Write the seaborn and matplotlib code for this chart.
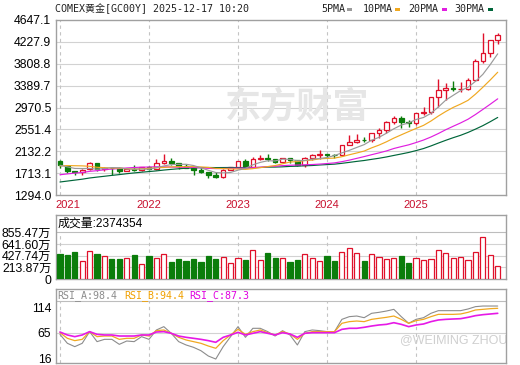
import numpy as np
import pandas as pd
import matplotlib
matplotlib.use("Agg")
import matplotlib.pyplot as plt
import seaborn as sns
from matplotlib.patches import Rectangle

# monthly bars, 2021-01 .. 2025-12
years = ["2021", "2022", "2023", "2024", "2025"]
year_pos = [0, 12, 24, 36, 48]

opens = [1940, 1850, 1745, 1730, 1785, 1900, 1790, 1818, 1813, 1757, 1783, 1775,
         1828, 1797, 1900, 1950, 1911, 1848, 1807, 1781, 1726, 1672, 1640, 1768,
         1826, 1945, 1836, 1986, 2000, 1982, 1929, 2009, 1966, 1870, 2002, 2057,
         2071, 2067, 2054, 2254, 2302, 2346, 2339, 2473, 2536, 2690, 2775, 2697,
         2680, 2863, 2880, 3175, 3304, 3340, 3320, 3330, 3495, 3870, 4013, 4261]
highs = [1960, 1875, 1760, 1800, 1920, 1915, 1835, 1835, 1835, 1815, 1878, 1830,
         1855, 1975, 2078, 2003, 1912, 1880, 1814, 1824, 1735, 1732, 1786, 1836,
         1949, 1975, 2015, 2063, 2085, 1985, 2011, 2012, 1970, 2019, 2085, 2152,
         2088, 2074, 2256, 2448, 2454, 2400, 2485, 2570, 2708, 2801, 2801, 2726,
         2873, 2974, 3177, 3509, 3437, 3476, 3451, 3534, 3892, 4398, 4270, 4400]
lows = [1805, 1720, 1680, 1680, 1765, 1750, 1750, 1680, 1720, 1745, 1760, 1755,
        1780, 1780, 1890, 1872, 1786, 1805, 1681, 1709, 1622, 1617, 1618, 1765,
        1824, 1810, 1810, 1969, 1937, 1900, 1902, 1913, 1846, 1823, 1966, 1987,
        2001, 2011, 2039, 2253, 2296, 2304, 2319, 2393, 2490, 2652, 2570, 2598,
        2633, 2832, 2850, 2978, 3123, 3283, 3268, 3314, 3480, 3830, 3930, 4190]
closes = [1865, 1745, 1730, 1768, 1905, 1790, 1815, 1813, 1757, 1783, 1775, 1828,
          1797, 1900, 1950, 1911, 1848, 1807, 1781, 1726, 1672, 1640, 1768, 1826,
          1945, 1836, 1986, 2000, 1982, 1929, 2009, 1966, 1870, 2002, 2057, 2071,
          2067, 2054, 2254, 2302, 2346, 2339, 2473, 2536, 2690, 2775, 2697, 2680,
          2863, 2880, 3175, 3304, 3340, 3320, 3330, 3495, 3870, 4013, 4261, 4356]

ma5 = [1863, 1833, 1803, 1801, 1803, 1788, 1802, 1819, 1817, 1793, 1790, 1792,
       1788, 1817, 1850, 1877, 1881, 1883, 1859, 1815, 1767, 1725, 1717, 1726,
       1770, 1803, 1872, 1919, 1950, 1947, 1981, 1977, 1951, 1955, 1981, 1993,
       2013, 2050, 2101, 2150, 2205, 2259, 2343, 2399, 2477, 2563, 2634, 2676,
       2741, 2779, 2859, 2980, 3112, 3204, 3294, 3358, 3471, 3606, 3794, 3999]
ma10 = [1852, 1858, 1855, 1852, 1844, 1825, 1817, 1811, 1809, 1798, 1789, 1797,
        1804, 1817, 1821, 1833, 1837, 1836, 1838, 1832, 1822, 1803, 1800, 1793,
        1792, 1785, 1799, 1818, 1838, 1858, 1892, 1925, 1935, 1953, 1964, 1987,
        1995, 2001, 2028, 2065, 2099, 2136, 2197, 2250, 2313, 2384, 2447, 2509,
        2570, 2628, 2711, 2807, 2894, 2972, 3036, 3108, 3226, 3359, 3499, 3646]
ma20 = [1682, 1698, 1713, 1725, 1747, 1760, 1778, 1792, 1801, 1812, 1821, 1827,
        1830, 1835, 1833, 1829, 1827, 1823, 1823, 1815, 1805, 1800, 1802, 1805,
        1807, 1809, 1818, 1827, 1838, 1845, 1857, 1864, 1868, 1873, 1878, 1886,
        1897, 1909, 1933, 1962, 1996, 2030, 2066, 2101, 2138, 2185, 2221, 2255,
        2299, 2347, 2405, 2472, 2545, 2611, 2675, 2746, 2836, 2934, 3034, 3137]
ma30 = [1543, 1561, 1579, 1597, 1620, 1637, 1653, 1670, 1685, 1702, 1717, 1731,
        1743, 1756, 1772, 1785, 1797, 1807, 1813, 1819, 1821, 1819, 1820, 1821,
        1819, 1815, 1818, 1822, 1828, 1829, 1834, 1842, 1846, 1854, 1859, 1869,
        1877, 1885, 1901, 1919, 1938, 1955, 1977, 1998, 2023, 2052, 2080, 2109,
        2145, 2184, 2234, 2289, 2342, 2392, 2438, 2493, 2556, 2623, 2699, 2780]

# volume in 万
volume = [458, 446, 495, 330, 513, 464, 421, 366, 366, 385, 446, 275,
          421, 385, 458, 311, 366, 336, 366, 311, 421, 366, 409, 299,
          385, 348, 531, 348, 476, 391, 379, 318, 348, 458, 385, 330,
          421, 330, 495, 562, 470, 330, 452, 397, 360, 379, 421, 299,
          379, 348, 366, 525, 470, 379, 397, 348, 489, 763, 434, 237.4]
vol_up = [0, 0, 0, 1, 1, 0, 1, 0, 0, 1, 0, 1, 0, 1, 1, 0, 0, 0, 0, 0, 0, 0, 1, 1,
          1, 0, 1, 1, 0, 0, 1, 0, 0, 1, 1, 1, 0, 0, 1, 1, 1, 0, 1, 1, 1, 1, 0, 0,
          1, 1, 1, 1, 1, 1, 1, 1, 1, 1, 1, 1]

rsi_a = [62.4, 45.2, 38.8, 45.2, 67.6, 48.4, 52.8, 52.8, 43.2, 49.6, 48.4, 58.0,
         52.8, 70.8, 77.2, 64.4, 48.4, 42.0, 37.5, 31.0, 20.8, 15.0, 38.8, 58.0,
         77.2, 56.7, 74.0, 74.0, 67.6, 59.2, 69.5, 61.2, 42.0, 67.6, 70.8, 69.5,
         67.6, 67.6, 91.2, 96.4, 97.6, 94.4, 102.8, 104.7, 107.2, 110.4, 96.4, 83.6,
         91.2, 94.4, 102.8, 107.9, 107.9, 107.9, 107.9, 111.1, 115.6, 116.8, 116.8, 116.8]
rsi_b = [65.6, 54.8, 50.3, 52.8, 67.6, 58.0, 59.2, 59.2, 52.8, 54.8, 54.8, 61.2,
         59.2, 69.5, 70.8, 64.4, 56.7, 51.6, 48.4, 45.2, 40.0, 35.6, 50.3, 61.2,
         72.0, 62.4, 67.6, 70.8, 65.6, 61.2, 67.6, 63.1, 52.8, 64.4, 67.6, 67.6,
         67.6, 67.6, 83.6, 86.8, 88.0, 86.8, 91.2, 93.2, 95.1, 97.6, 91.2, 83.6,
         88.7, 91.2, 96.4, 100.8, 100.8, 100.8, 101.5, 104.7, 109.2, 110.4, 111.7, 112.4]
rsi_c = [66.9, 61.2, 58.0, 61.2, 67.6, 62.4, 61.2, 61.2, 59.2, 59.2, 59.2, 61.2,
         61.2, 66.9, 67.6, 64.4, 59.2, 56.7, 54.8, 52.8, 50.3, 47.1, 56.7, 61.2,
         66.3, 61.2, 64.4, 67.6, 64.4, 61.2, 65.6, 63.1, 56.7, 64.4, 65.6, 65.6,
         65.6, 65.6, 72.0, 74.0, 74.0, 75.9, 78.4, 80.4, 81.6, 84.8, 81.6, 77.2,
         80.4, 82.3, 86.8, 90.0, 91.2, 91.9, 92.5, 95.1, 98.3, 100.2, 101.5, 102.8]

price_ticks = [1294.0, 1713.1, 2132.2, 2551.4, 2970.5, 3389.7, 3808.8, 4227.9, 4647.1]
vol_ticks = [0, 213.87, 427.74, 641.60, 855.47]
rsi_ticks = [16, 65, 114]

RED = "#e0102a"
GREEN = "#0b7d0b"
FRAME = "#a0a0a0"
GRID = "#d2d2d2"
C5, C10, C20, C30 = "#9a9a9a", "#f0a820", "#e01ee0", "#00663a"

sns.set_theme(style="white")
plt.rcParams["font.family"] = ["Liberation Sans", "Noto Sans CJK SC"]
MONO = ["DejaVu Sans Mono", "Noto Sans CJK SC"]

W, H = 520, 365
fig = plt.figure(figsize=(W / 100, H / 100), dpi=100)
fig.patch.set_facecolor("white")


def px_axes(x0, y0, x1, y1):
    return fig.add_axes([x0 / W, 1 - y1 / H, (x1 - x0) / W, (y1 - y0) / H])


def style(ax):
    for s in ax.spines.values():
        s.set_color(FRAME)
        s.set_linewidth(1)
    ax.tick_params(length=0, pad=3, labelsize=8.8, colors="black")
    ax.set_xlim(-0.6, 60.05)
    ax.set_xlabel("")
    ax.set_ylabel("")


df = pd.DataFrame({"o": opens, "h": highs, "l": lows, "c": closes})
df["i"] = np.arange(len(df))
df["up"] = df["c"] >= df["o"]
df["col"] = np.where(df["up"], RED, GREEN)
df["face"] = np.where(df["up"], "white", GREEN)
df["bot"] = df[["o", "c"]].min(axis=1)
df["hgt"] = (df["c"] - df["o"]).abs().clip(lower=1)

# ---- price panel
ax = px_axes(55.5, 20, 505.5, 195)
style(ax)
ax.set_ylim(1294.0, 4647.1)
ax.set_yticks(price_ticks)
ax.set_yticklabels([f"{t:.1f}" for t in price_ticks])
for t in price_ticks[1:-1]:
    ax.axhline(t, color=GRID, lw=0.8, zorder=0)
for p in year_pos:
    ax.axvline(p, color="#c4c4c4", lw=0.8, ls=(0, (3, 3)), zorder=0)
ax.set_xticks([])
# faint site watermark
ax.text(32, 2980, "东方财富", fontsize=26, fontweight="bold", color="#e6e6e6",
        ha="center", va="center", zorder=0, family=["Noto Sans CJK SC"])

ax.vlines(df["i"], df["l"], df["h"], colors=df["col"], lw=1, zorder=2)
ax.bar(df["i"], df["hgt"], bottom=df["bot"], width=0.62, color=df["face"],
       edgecolor=df["col"], lw=0.9, zorder=3)

for vals, c in [(ma30, C30), (ma20, C20), (ma10, C10), (ma5, C5)]:
    sns.lineplot(x=df["i"], y=vals, ax=ax, color=c, lw=0.85, zorder=4, legend=False)
ax.set_xlabel("")
ax.set_ylabel("")

for p, y in zip(year_pos, years):
    if p == 0:
        ax.text(-0.6, -0.03, y, transform=ax.get_xaxis_transform(), ha="left",
                va="top", color="#c8102e", fontsize=8)
    else:
        ax.text(p, -0.03, y, transform=ax.get_xaxis_transform(), ha="center",
                va="top", color="#c8102e", fontsize=8)

# ---- volume panel
axv = px_axes(55.5, 215, 505.5, 279)
style(axv)
axv.set_ylim(0, 855.47 * 64 / 46.7)
axv.set_yticks(vol_ticks)
axv.set_yticklabels(["0", "213.87万", "427.74万", "641.60万", "855.47万"])
for t in vol_ticks[1:]:
    axv.axhline(t, color=GRID if t < 855 else "#bdbdbd", lw=0.8, zorder=0)
axv.vlines(year_pos, 0, 855.47, colors="#c4c4c4", lw=0.8, linestyles=(0, (3, 3)), zorder=0)
axv.set_xticks([])
vcol = [RED if u else GREEN for u in vol_up]
vface = ["white" if u else GREEN for u in vol_up]
axv.bar(df["i"], volume, width=0.7, color=vface, edgecolor=vcol, lw=0.9, zorder=3)
axv.text(0.004, 0.87, "成交量:2374354", transform=axv.transAxes, va="center",
         ha="left", fontsize=8.6, color="black")

# ---- RSI panel
axr = px_axes(55.5, 289, 505.5, 363.3)
style(axr)
axr.set_ylim(6.8, 149.5)
axr.set_yticks(rsi_ticks)
axr.set_yticklabels([str(t) for t in rsi_ticks])
axr.axhline(65, color=GRID, lw=0.8, zorder=0)
axr.axhline(126.4, color="#bdbdbd", lw=0.8, zorder=0)
axr.vlines(year_pos, 6.8, 126.4, colors="#c4c4c4", lw=0.8, linestyles=(0, (3, 3)), zorder=0)
axr.set_xticks([])
axr.text(0.765, 0.31, "@WEIMING ZHOU", transform=axr.transAxes, fontsize=9,
         color="#cfcfcf", ha="left", va="center", zorder=1)
for vals, c, lw in [(rsi_a, "#8c8c8c", 0.8), (rsi_b, C10, 0.9), (rsi_c, "#e619e6", 1.2)]:
    sns.lineplot(x=df["i"], y=vals, ax=axr, color=c, lw=lw, zorder=3, legend=False)
axr.set_xlabel("")
axr.set_ylabel("")
for x, lab, c in [(0.004, "RSI_A:98.4", "#8c8c8c"), (0.152, "RSI_B:94.4", "#f0a000"),
                  (0.298, "RSI_C:87.3", "#e000e0")]:
    axr.text(x, 0.915, lab, transform=axr.transAxes, va="center", ha="left",
             fontsize=7.2, color=c, family=MONO)

# ---- header and legend
fig.text(55 / W, 1 - 9 / H, "COMEX黄金[GC00Y] 2025-12-17 10:20", fontsize=7.2,
         va="center", ha="left", family=MONO, color="#222222")
for x0, mx, lab, c in [(321, 347, "5PMA", C5), (363, 395, "10PMA", C10),
                       (408, 442, "20PMA", C20), (454, 488, "30PMA", C30)]:
    fig.text(x0 / W, 1 - 9 / H, lab, fontsize=7.2, va="center", ha="left",
             family=MONO, color="#222222")
    fig.add_artist(Rectangle((mx / W, 1 - 10.5 / H), 5 / W, 3 / H,
                             transform=fig.transFigure, color=c, lw=0))

fig.savefig("out.png", dpi=100)
